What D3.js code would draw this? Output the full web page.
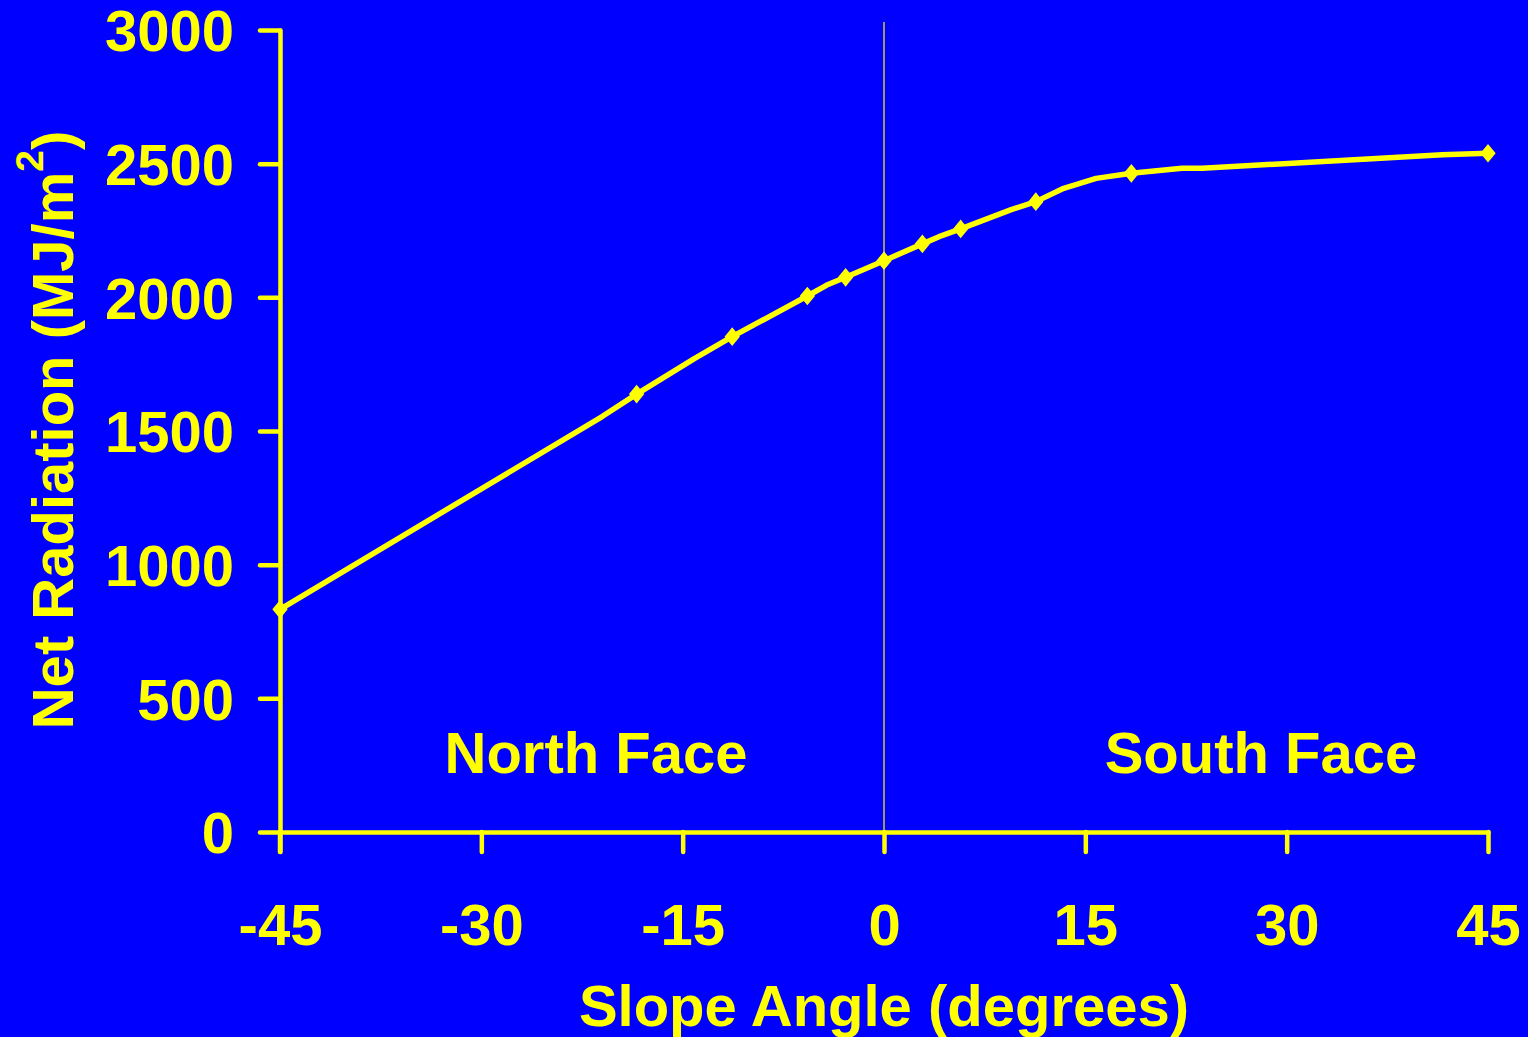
<!DOCTYPE html>
<html>
<head>
<meta charset="utf-8">
<script src="https://cdn.jsdelivr.net/npm/d3@7"></script>
<style>
  html, body { margin: 0; padding: 0; background: #0000FF; }
  svg { display: block; }
  text { font-family: "Liberation Sans", Arial, Helvetica, sans-serif; font-weight: bold; fill: #FFFF00; }
</style>
</head>
<body>
<svg id="chart" width="1528" height="1037"></svg>
<script>
// ---- data ----
const xTicks = [-45, -30, -15, 0, 15, 30, 45];
const yTicks = [0, 500, 1000, 1500, 2000, 2500, 3000];
// marked points (slope angle in degrees, net radiation MJ/m2)
const markerAngles = [-45, -18.43, -11.31, -5.71, -2.86, 0, 2.86, 5.71, 11.31, 18.43, 45];
const markerValues = [833, 1638, 1853, 2005, 2075, 2137, 2200, 2256, 2358, 2464, 2539];
// traced line (markers plus the unmarked bends)
const lineAngles = [-45, -21.0, -18.43, -14.1, -11.31, -5.71, -4.26, -2.86, 0, 2.86, 4.1, 5.71, 9.43, 11.31, 13.39, 15.8, 18.43, 22.2, 23.7, 30.1, 41.6, 45];
const lineValues = [833, 1554, 1638, 1772, 1853, 2005, 2046, 2075, 2137, 2200, 2227, 2256, 2327, 2358, 2408, 2445, 2464, 2483, 2483, 2501, 2533, 2539];
const xTitle = "Slope Angle (degrees)";
const yTitle = "Net Radiation (MJ/m";
const faceLabels = ["North Face", "South Face"];

const YEL = "#FFFF00";
const FS = "58px";
const svg = d3.select("#chart");
svg.append("rect").attr("width", 1528).attr("height", 1037).attr("fill", "#0000FF");

const x = d3.scaleLinear().domain([-45, 45]).range([280, 1488]);
const y = d3.scaleLinear().domain([0, 3000]).range([832, 30]);

// zero reference line
svg.append("line")
  .attr("x1", x(0)).attr("x2", x(0))
  .attr("y1", 22).attr("y2", y(0))
  .attr("stroke", YEL).attr("stroke-width", 1.2);

const fmt = d => String(d);
// y axis
const yAxis = svg.append("g")
  .attr("transform", `translate(${x(-45)},0)`)
  .call(d3.axisLeft(y).tickValues(yTicks).tickSize(20).tickSizeOuter(0).tickPadding(26).tickFormat(fmt));
// x axis
const xAxis = svg.append("g")
  .attr("transform", `translate(0,${y(0)})`)
  .call(d3.axisBottom(x).tickValues(xTicks).tickSize(20).tickSizeOuter(0).tickFormat(fmt));

[yAxis, xAxis].forEach(g => {
  g.select(".domain").attr("stroke", YEL).attr("stroke-width", 4.5).attr("stroke-linecap", "round");
  g.selectAll(".tick line").attr("stroke", YEL).attr("stroke-width", 4.5).attr("stroke-linecap", "round");
  g.selectAll(".tick text").attr("fill", YEL).style("font-size", FS);
});
yAxis.selectAll(".tick text").attr("dy", "0.36em");
xAxis.selectAll(".tick text").attr("y", 113).attr("dy", 0);
// extend y axis down through the origin like the reference
yAxis.append("line").attr("x1", 0).attr("x2", 0).attr("y1", y(0)).attr("y2", y(0) + 20)
  .attr("stroke", YEL).attr("stroke-width", 4.5).attr("stroke-linecap", "round");

// data line
const pts = lineAngles.map((a, i) => [a, lineValues[i]]);
svg.append("path")
  .datum(pts)
  .attr("fill", "none")
  .attr("stroke", YEL)
  .attr("stroke-width", 5.5)
  .attr("stroke-linejoin", "round")
  .attr("d", d3.line().x(d => x(d[0])).y(d => y(d[1])));

// diamond markers
const sym = d3.symbol().type(d3.symbolSquare).size(175);
svg.selectAll("path.mk")
  .data(markerAngles.map((a, i) => [a, markerValues[i]]))
  .join("path")
  .attr("class", "mk")
  .attr("fill", YEL)
  .attr("d", sym)
  .attr("transform", d => `translate(${x(d[0])},${y(d[1])}) scale(0.82,1) rotate(45)`);

// face labels
svg.append("text").attr("x", 596).attr("y", 773).attr("text-anchor", "middle")
  .style("font-size", FS).text(faceLabels[0]);
svg.append("text").attr("x", 1261).attr("y", 773).attr("text-anchor", "middle")
  .style("font-size", FS).text(faceLabels[1]);

// axis titles
svg.append("text").attr("x", 884).attr("y", 1026).attr("text-anchor", "middle")
  .style("font-size", FS).text(xTitle);

const yt = svg.append("text")
  .attr("transform", "translate(73,430) rotate(-90)")
  .attr("text-anchor", "middle")
  .style("font-size", FS);
yt.append("tspan").text(yTitle);
yt.append("tspan").attr("dy", -30).style("font-size", "39px").text("2");
yt.append("tspan").attr("dy", 30).text(")");
</script>
</body>
</html>
